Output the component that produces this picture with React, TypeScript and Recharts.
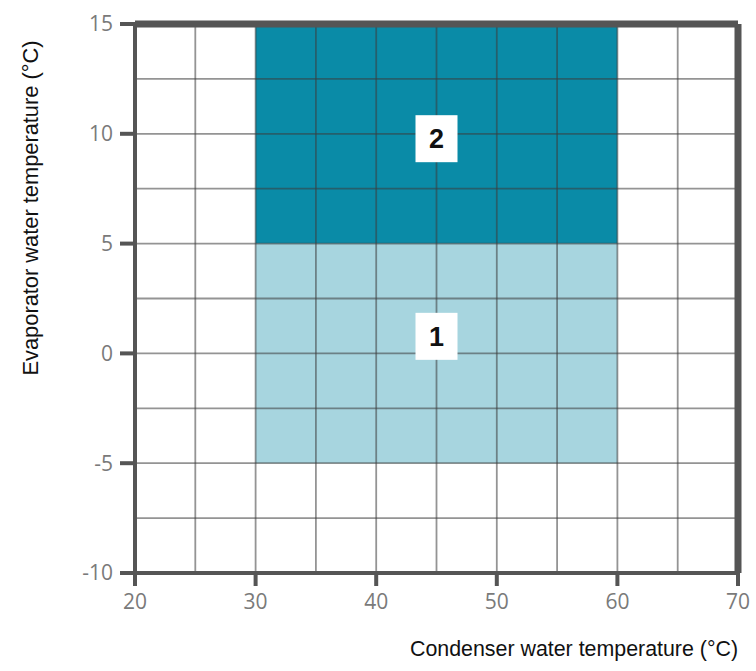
import {
  ScatterChart,
  XAxis,
  YAxis,
  ReferenceArea,
  ReferenceLine,
  ReferenceDot,
} from "recharts";

const xTicks = [20, 30, 40, 50, 60, 70];
const yTicks = [-10, -5, 0, 5, 10, 15];
const xGrid = [25, 30, 35, 40, 45, 50, 55, 60, 65];
const yGrid = [-7.5, -5, -2.5, 0, 2.5, 5, 7.5, 10, 12.5];
const xEdge = [70];
const yEdge = [15];

const zoneNames = ["1", "2"];
const zoneX1 = [30, 30];
const zoneX2 = [60, 60];
const zoneY1 = [-5, 5];
const zoneY2 = [5, 15];
const zoneLabelX = [45, 45];
const zoneLabelY = [0.8, 9.8];

const zoneFills = ["#A7D5DF", "#0A8BA7"];
const frame = "#555555";
const tickColor = "#7a7a7a";
const titleFont = "'Liberation Sans', Arial, sans-serif";
const frameLine = { stroke: frame, strokeWidth: 4, strokeLinecap: "square" as const };

const LabelBox = (props: any) => {
  const { cx, cy, name } = props;
  return (
    <g>
      <rect x={cx - 21} y={cy - 23} width={42} height={47} fill="#ffffff" />
      <text
        x={cx}
        y={cy + 10}
        textAnchor="middle"
        fontFamily="'Liberation Sans', Arial, sans-serif"
        fontWeight="bold"
        fontSize={27}
        fill="#111"
      >
        {name}
      </text>
    </g>
  );
};

export default function App() {
  const tick = { fill: tickColor, fontSize: 21, fontFamily: "'Open Sans', sans-serif" };
  return (
    <div style={{ position: "absolute", left: 0, top: 0, background: "#fff" }}>
      <ScatterChart width={756} height={671} margin={{ top: 24, right: 18, bottom: 0, left: 0 }}>
        <XAxis
          type="number"
          dataKey="x"
          domain={[20, 70]}
          ticks={xTicks}
          interval={0}
          tick={tick}
          tickSize={13}
          tickMargin={8}
          height={98}
          axisLine={frameLine}
          tickLine={{ stroke: frame, strokeWidth: 4 }}
          allowDataOverflow
          label={{
            content: ({ viewBox }: any) => (
              <text
                x={viewBox.x + viewBox.width}
                y={viewBox.y + 83}
                textAnchor="end"
                fontFamily={titleFont}
                fontSize={22}
                textLength={328}
                lengthAdjust="spacingAndGlyphs"
                fill="#111"
              >
                Condenser water temperature (°C)
              </text>
            ),
          }}
        />
        <YAxis
          type="number"
          dataKey="y"
          domain={[-10, 15]}
          ticks={yTicks}
          interval={0}
          tick={tick}
          tickSize={15}
          tickMargin={7}
          width={135}
          axisLine={frameLine}
          tickLine={{ stroke: frame, strokeWidth: 4 }}
          allowDataOverflow
          label={{
            content: ({ viewBox }: any) => (
              <text
                x={viewBox.x + 38}
                y={viewBox.y + 184}
                textAnchor="middle"
                transform={`rotate(-90 ${viewBox.x + 38} ${viewBox.y + 184})`}
                fontFamily={titleFont}
                fontSize={22}
                textLength={335}
                lengthAdjust="spacingAndGlyphs"
                fill="#111"
              >
                Evaporator water temperature (°C)
              </text>
            ),
          }}
        />
        {zoneNames.map((n, i) => (
          <ReferenceArea
            key={`z${n}`}
            x1={zoneX1[i]}
            x2={zoneX2[i]}
            y1={zoneY1[i]}
            y2={zoneY2[i]}
            fill={zoneFills[i]}
            fillOpacity={1}
            stroke="none"
          />
        ))}
        {xGrid.map((v) => (
          <ReferenceLine key={`gx${v}`} x={v} stroke="rgba(60,60,60,0.55)" strokeWidth={1.8} />
        ))}
        {yGrid.map((v) => (
          <ReferenceLine key={`gy${v}`} y={v} stroke="rgba(60,60,60,0.55)" strokeWidth={1.8} />
        ))}
        {xEdge.map((v) => (
          <ReferenceLine key={`ex${v}`} x={v} stroke={frame} strokeWidth={7} />
        ))}
        {yEdge.map((v) => (
          <ReferenceLine key={`ey${v}`} y={v} stroke={frame} strokeWidth={7} />
        ))}
        {zoneNames.map((n, i) => (
          <ReferenceDot
            key={`l${n}`}
            x={zoneLabelX[i]}
            y={zoneLabelY[i]}
            r={20}
            shape={(p: any) => <LabelBox {...p} name={n} />}
          />
        ))}
      </ScatterChart>
    </div>
  );
}
